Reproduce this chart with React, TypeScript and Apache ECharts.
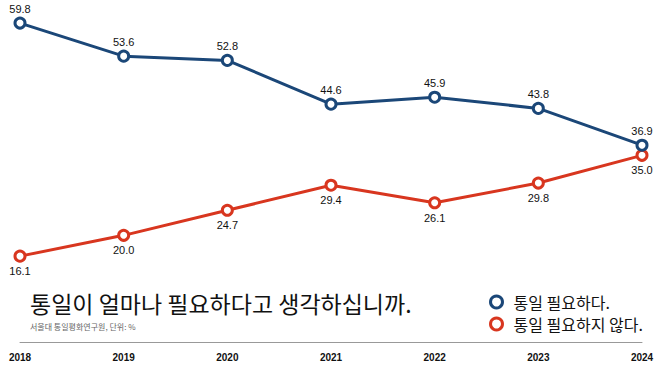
import React, { useEffect, useRef } from "react";
import * as echarts from "echarts";

const years = ["2018", "2019", "2020", "2021", "2022", "2023", "2024"];
const needed = [59.8, 53.6, 52.8, 44.6, 45.9, 43.8, 36.9];
const notNeeded = [16.1, 20.0, 24.7, 29.4, 26.1, 29.8, 35.0];
const seriesNames = ["통일 필요하다.", "통일 필요하지 않다."];
const titleText = "통일이 얼마나 필요하다고 생각하십니까.";
const subText = "서울대 통일평화연구원, 단위: %";

const BLUE = "#1b4778";
const RED = "#d8361f";
const FONT = "'Liberation Sans', Arial, sans-serif";
const KFONT = "'Noto Sans CJK KR', 'Noto Sans', sans-serif";

export default function App() {
  const ref = useRef<HTMLDivElement>(null);
  useEffect(() => {
    const chart = echarts.init(ref.current!, null, { renderer: "svg" });
    chart.setOption({
      animation: false,
      backgroundColor: "#fff",
      grid: { left: 20, right: 16, top: 22, bottom: 28 },
      xAxis: {
        type: "category",
        data: years,
        boundaryGap: false,
        axisLine: { lineStyle: { color: "#999", width: 1 } },
        axisTick: { show: false },
        axisLabel: { color: "#111", fontSize: 10, fontFamily: FONT, fontWeight: "bold", margin: 10 },
      },
      yAxis: { type: "value", min: 0, max: 60, show: false, splitLine: { show: false } },
      legend: {
        orient: "vertical",
        left: 484,
        top: 289,
        itemGap: 6,
        icon: "circle",
        itemWidth: 12,
        itemHeight: 12,
        itemStyle: { color: "#fff", borderWidth: 3 },
        textStyle: { fontSize: 16, color: "#111", fontFamily: KFONT, padding: [0, 0, 0, 6] },
        data: seriesNames,
      },
      graphic: [
        {
          type: "text",
          left: 30,
          top: 291,
          style: { text: titleText, fontSize: 23, fill: "#111", fontFamily: KFONT },
        },
        {
          type: "text",
          left: 30,
          top: 322,
          style: { text: subText, fontSize: 8, fill: "#666", fontFamily: KFONT },
        },
      ],
      series: [
        {
          name: seriesNames[0],
          type: "line",
          data: needed,
          symbol: "circle",
          symbolSize: 10,
          lineStyle: { color: BLUE, width: 3 },
          itemStyle: { color: "#fff", borderColor: BLUE, borderWidth: 3 },
          label: {
            show: true,
            position: "top",
            distance: 2,
            fontSize: 11,
            color: "#111",
            fontFamily: FONT,
            formatter: (p: any) => p.value.toFixed(1),
          },
          z: 3,
        },
        {
          name: seriesNames[1],
          type: "line",
          data: notNeeded,
          symbol: "circle",
          symbolSize: 10,
          lineStyle: { color: RED, width: 3 },
          itemStyle: { color: "#fff", borderColor: RED, borderWidth: 3 },
          label: {
            show: true,
            position: "bottom",
            distance: 3,
            fontSize: 11,
            color: "#111",
            fontFamily: FONT,
            formatter: (p: any) => p.value.toFixed(1),
          },
          z: 2,
        },
      ],
    });
    return () => chart.dispose();
  }, []);
  return <div ref={ref} style={{ width: 658, height: 370, position: "absolute", left: 0, top: 0 }} />;
}
